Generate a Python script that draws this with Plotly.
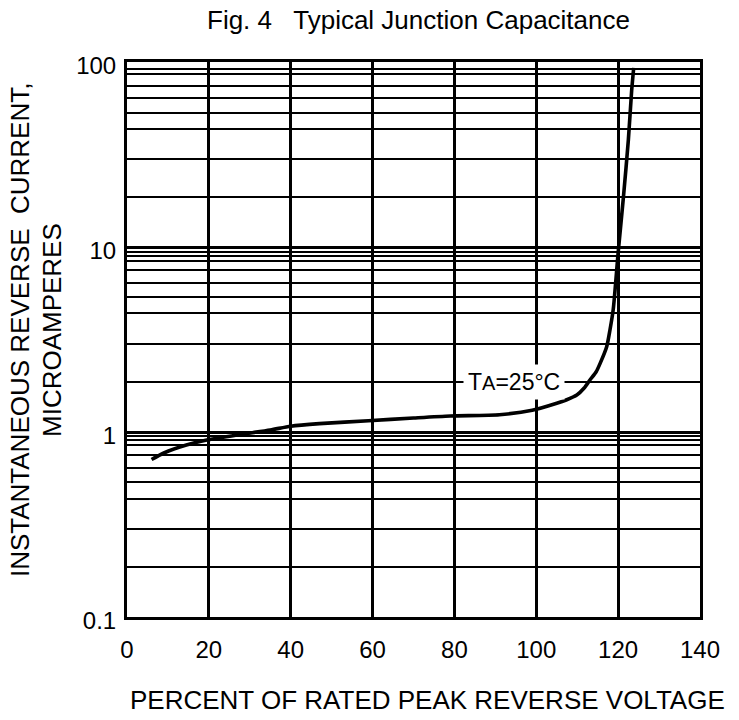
import plotly.graph_objects as go

# Curve
pct_voltage = [6, 9, 14.5, 19.5, 27, 35, 40, 47, 59, 70, 79, 91, 99, 105, 107.3,
               109.9, 111.7, 113.1, 114.6, 115.6, 117.2, 118, 118.8, 120, 121.3,
               122.5, 123.3, 123.8]
current_ua = [0.71, 0.77, 0.85, 0.905, 0.965, 1.025, 1.075, 1.11, 1.15, 1.19, 1.22,
              1.24, 1.31, 1.43, 1.49, 1.585, 1.73, 1.91, 2.11, 2.35, 2.89, 3.56,
              4.6, 9.3, 18.7, 38, 70, 93]

# Axis ticks
x_ticks = [0, 20, 40, 60, 80, 100, 120, 140]
y_ticks = [0.1, 1, 10, 100]
y_tick_text = ["0.1", "1", "10", "100"]

# Horizontal grid lines as drawn on the reference's (irregular) log paper
grid_top = [92, 86, 74, 64, 53, 43.5, 30, 18.6]
grid_mid = [9.4, 8.9, 8.4, 7.5, 6.4, 5.35, 4.4, 3.0, 1.87]
grid_low = [0.95, 0.905, 0.855, 0.75, 0.64, 0.535, 0.435, 0.30, 0.187]

FONT = "Liberation Sans, Arial, sans-serif"
FS = 26

fig = go.Figure()
fig.add_trace(go.Scatter(
    x=pct_voltage, y=current_ua, mode="lines",
    line=dict(color="black", width=3.6, shape="spline", smoothing=0.7),
    hoverinfo="skip", showlegend=False,
))

fig.update_layout(
    width=739, height=720,
    margin=dict(l=127, r=39, t=62, b=103),
    paper_bgcolor="white", plot_bgcolor="white",
    font=dict(family=FONT, size=FS, color="black"),
    showlegend=False,
)

fig.update_xaxes(
    range=[0, 140], tickmode="array", tickvals=x_ticks,
    showgrid=True, gridcolor="black", gridwidth=3,
    showline=True, linecolor="black", linewidth=3, mirror=True,
    ticks="", ticklabelstandoff=9, zeroline=False,
    tickfont=dict(family=FONT, size=FS - 2, color="black"),
)

fig.update_yaxes(
    type="log", range=[-1, 2], tickmode="array",
    tickvals=y_ticks, ticktext=y_tick_text,
    showgrid=True, gridcolor="black", gridwidth=3,
    showline=True, linecolor="black", linewidth=3, mirror=True,
    ticks="", zeroline=False, ticklabelstandoff=3, ticklabelshift=4,
    tickfont=dict(family=FONT, size=FS - 2, color="black"),
    minor=dict(tickmode="array", tickvals=grid_top + grid_mid + grid_low,
               showgrid=True, gridcolor="black", gridwidth=2.4, ticks=""),
)

fig.add_annotation(
    text="Fig. 4   Typical Junction Capacitance", xref="paper", yref="paper",
    x=0.508, y=1.0757, showarrow=False, xanchor="center", yanchor="middle",
    font=dict(family=FONT, size=FS, color="black"),
)
fig.add_annotation(
    text="PERCENT OF RATED PEAK REVERSE VOLTAGE", xref="paper", yref="paper",
    x=0.5236, y=-0.1495, showarrow=False, xanchor="center", yanchor="middle",
    font=dict(family=FONT, size=FS, color="black"),
)
fig.add_annotation(
    text="INSTANTANEOUS REVERSE  CURRENT,", xref="paper", yref="paper",
    x=-0.1867, y=0.517, showarrow=False, textangle=-90,
    xanchor="center", yanchor="middle",
    font=dict(family=FONT, size=FS, color="black"),
)
fig.add_annotation(
    text="MICROAMPERES", xref="paper", yref="paper",
    x=-0.131, y=0.517, showarrow=False, textangle=-90,
    xanchor="center", yanchor="middle",
    font=dict(family=FONT, size=FS, color="black"),
)
fig.add_annotation(
    text="T<span style='font-size:20px'>A</span>=25°C", xref="x", yref="y",
    x=94.6, y=0.272, showarrow=False, xanchor="center", yanchor="middle",
    bgcolor="white", borderpad=4,
    font=dict(family=FONT, size=23, color="black"),
)

fig.write_html("out.html", config={"displayModeBar": False},
               post_script="document.body.style.margin='0';")
